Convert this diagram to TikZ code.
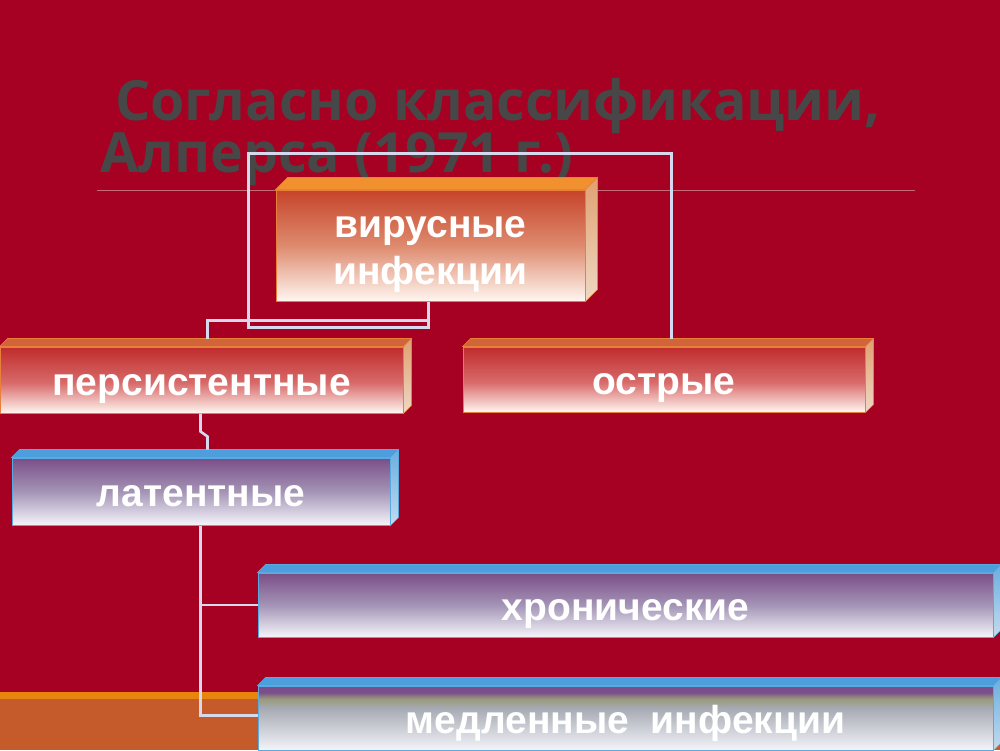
\documentclass[tikz,border=0pt]{standalone}
\usepackage{fontspec}
\setmainfont{Liberation Sans}
\newfontfamily\titlefont{Open Sans}
\usetikzlibrary{calc}

\definecolor{bgred}{HTML}{A60022}
\definecolor{titlegray}{HTML}{474747}
\definecolor{linecol}{HTML}{D6D8EE}
\definecolor{rulecol}{HTML}{C46A78}
\definecolor{bandorange}{HTML}{E8850F}
\definecolor{bandbrown}{HTML}{C55B2B}
\definecolor{virtop}{HTML}{C6442A}
\definecolor{virmid}{HTML}{DE8A6E}
\definecolor{redtop}{HTML}{C02C2C}
\definecolor{redmid}{HTML}{D86A6A}
\definecolor{redbottom}{HTML}{FFF6F0}
\definecolor{orangeface}{HTML}{F0902F}
\definecolor{redface}{HTML}{D2643A}
\definecolor{sidetop}{HTML}{E0A070}
\definecolor{sidebottom}{HTML}{EFD8C4}
\definecolor{redborder}{HTML}{E8803A}
\definecolor{purpletop}{HTML}{7A4E88}
\definecolor{purplemid}{HTML}{A494B6}
\definecolor{purplebottom}{HTML}{F4F4FA}
\definecolor{olivegray}{HTML}{9A9A7C}
\definecolor{slowgray}{HTML}{A6AAB2}
\definecolor{bluetop}{HTML}{4C9EDC}
\definecolor{bluesidetop}{HTML}{6AAEE0}
\definecolor{bluesidebottom}{HTML}{C4DCEE}
\definecolor{blueborder}{HTML}{5AAAE2}

\pgfdeclareverticalshading{virshade}{100bp}{color(0bp)=(redbottom); color(25bp)=(redbottom); color(50bp)=(virmid); color(75bp)=(virtop); color(100bp)=(virtop)}
\pgfdeclareverticalshading{redshade}{100bp}{color(0bp)=(redbottom); color(25bp)=(redbottom); color(48bp)=(redmid); color(75bp)=(redtop); color(100bp)=(redtop)}
\pgfdeclareverticalshading{purpleshade}{100bp}{color(0bp)=(purplebottom); color(25bp)=(purplebottom); color(50bp)=(purplemid); color(75bp)=(purpletop); color(100bp)=(purpletop)}
\pgfdeclareverticalshading{slowshade}{100bp}{color(0bp)=(purplebottom); color(25bp)=(purplebottom); color(58bp)=(slowgray); color(65bp)=(olivegray); color(70bp)=(purpletop); color(100bp)=(purpletop)}

\tikzset{
  boxlabel/.style={text=white, font=\bfseries\fontsize{39}{47}\selectfont, align=center, inner sep=0pt, text height=30pt, text depth=0pt},
  redbox/.style={boxlabel, draw=redborder, line width=1pt, shading=redshade},
  virbox/.style={boxlabel, draw=redborder, line width=1pt, shading=virshade, text height=78pt},
  purplebox/.style={boxlabel, draw=blueborder, line width=1pt, shading=purpleshade},
  slowbox/.style={boxlabel, draw=blueborder, line width=1pt, shading=slowshade},
  conn/.style={draw=linecol, line width=2.6pt},
  titletext/.style={text=titlegray, font=\titlefont\bfseries\fontsize{55.5}{55.5}\selectfont, inner sep=0pt}
}

\newcommand\boxfaces[6]{% name, depth, top colour, side top, side bottom, border
  \fill[#3, draw=#6, line width=0.6pt] (#1.north west) -- ++(#2,-#2) -- ($(#1.north east)+(#2,-#2)$) -- (#1.north east) -- cycle;
  \shade[top color=#4, bottom color=#5, draw=#6, line width=0.6pt] (#1.north east) -- ++(#2,-#2) -- ($(#1.south east)+(#2,-#2)$) -- (#1.south east) -- cycle;
}

\begin{document}
\begin{tikzpicture}[x=1pt, y=-1pt]
\useasboundingbox (0,0) rectangle (1000,750);
% background
\fill[bgred] (0,0) rectangle (1000,750);
\fill[bandbrown] (0,699) rectangle (1000,750);
\fill[bandorange] (0,692) rectangle (1000,699);

% title
\node[titletext, anchor=base west] (title1) at (115,120) {Согласно классификации,};
\node[titletext, anchor=base west] (title2) at (100,172) {Алперса (1971 г.)};
\draw[rulecol, line width=0.8pt] (97,190) -- (915,190);

% boxes
\node[virbox, minimum width=309pt, minimum height=111pt] (vir) at (430.5,245.5) {вирусные\\инфекции};
\boxfaces{vir}{12}{orangeface}{sidetop}{sidebottom}{redborder}

\node[redbox, minimum width=403pt, minimum height=66pt] (pers) at (201.5,380) {персистентные};
\boxfaces{pers}{8}{redface}{sidetop}{sidebottom}{redborder}

\node[redbox, minimum width=402pt, minimum height=65pt] (ostr) at (664,379.5) {острые};
\boxfaces{ostr}{8}{redface}{sidetop}{sidebottom}{redborder}

\node[purplebox, minimum width=378pt, minimum height=67pt] (lat) at (201,491.5) {латентные};
\boxfaces{lat}{8}{bluetop}{bluesidetop}{bluesidebottom}{blueborder}

\node[purplebox, minimum width=735pt, minimum height=64pt] (hron) at (625.5,605) {хронические};
\boxfaces{hron}{8}{bluetop}{bluesidetop}{bluesidebottom}{blueborder}

\node[slowbox, minimum width=735pt, minimum height=64pt] (medl) at (625.5,718) {медленные\ \ инфекции};
\boxfaces{medl}{8}{bluetop}{bluesidetop}{bluesidebottom}{blueborder}

% connectors
\draw[conn] ($(vir.south west)+(153,0)$) -- ++(0,19) -| ($(pers.north west)+(208,-8)$);
\draw[conn] ($(vir.south west)+(153,0)$) -- ++(0,26) -- ++(-180,0) -- ++(0,-174) -| ($(ostr.north west)+(209,-8)$);
\draw[conn] ($(pers.south west)+(201,0)$) -- ++(0,18) -- ++(7,5) -- ($(lat.north west)+(196,-8)$);
\draw[conn] ($(lat.south west)+(189,0)$) |- (hron.west);
\draw[conn] ($(lat.south west)+(189,0)$) |- ($(medl.north west)+(0,30)$);
\end{tikzpicture}
\end{document}
